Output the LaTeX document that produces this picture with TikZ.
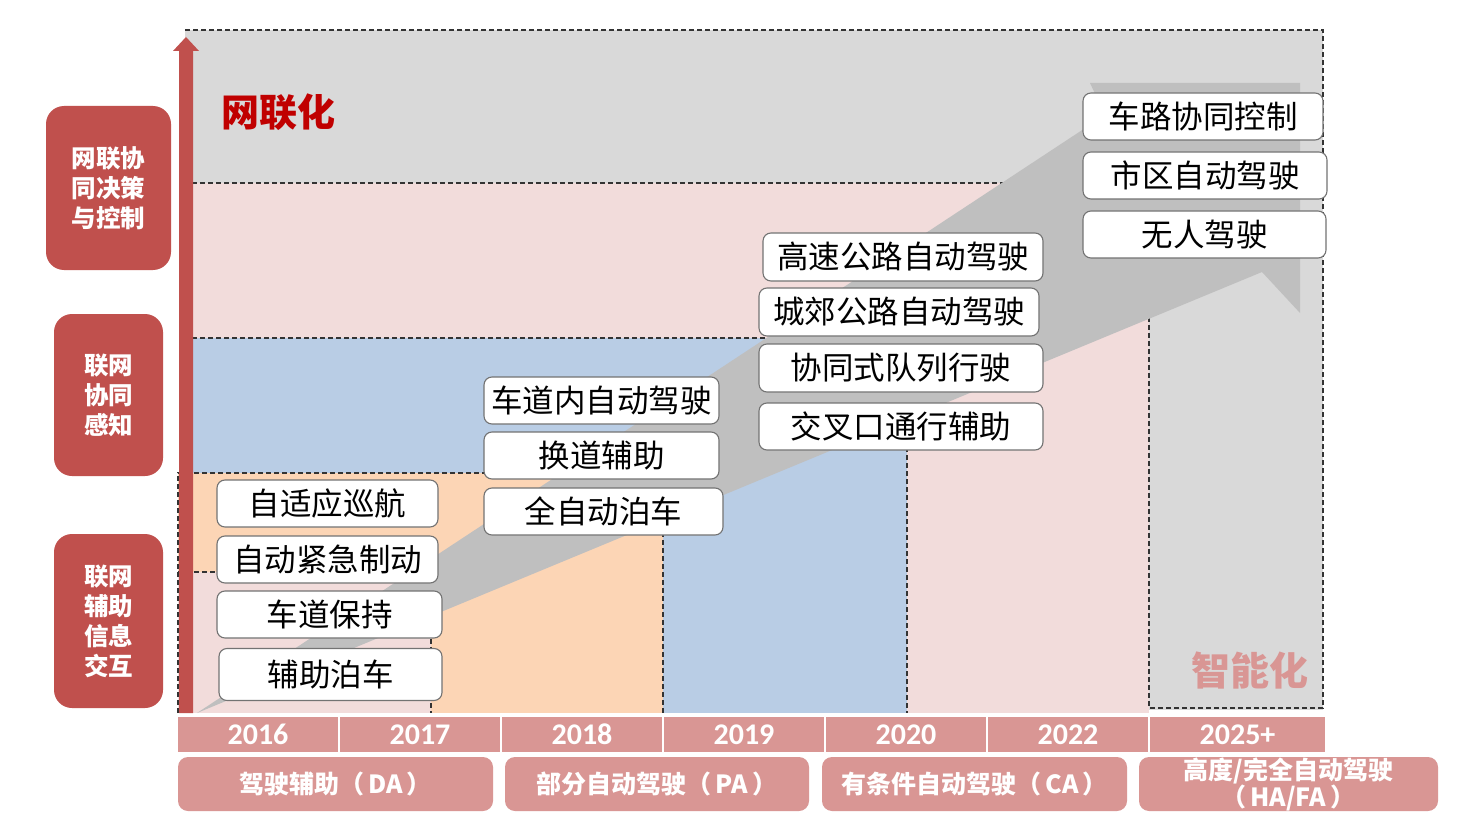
\documentclass[tikz,border=0pt]{standalone}
\usepackage{fontspec}
\newfontfamily\cjk{Noto Sans CJK SC}
\newfontfamily\carl{Carlito}
\definecolor{bggray}{HTML}{D9D9D9}
\definecolor{pinkbg}{HTML}{F2DCDB}
\definecolor{bluebg}{HTML}{B9CDE5}
\definecolor{peach}{HTML}{FCD5B5}
\definecolor{band}{HTML}{BFBFBF}
\definecolor{redA}{HTML}{C0504D}
\definecolor{tl}{HTML}{D99694}
\definecolor{darkred}{HTML}{C00000}
\begin{document}
\begin{tikzpicture}[x=1pt,y=-1pt,
  dline/.style={draw=black!80,line width=1.2pt,dash pattern=on 5pt off 3pt},
  wbox/.style={draw=black!55,line width=1.1pt,fill=white,rounded corners=8pt,
    minimum height=47pt,inner sep=0pt,font=\cjk\fontsize{31.5}{36}\selectfont},
  rbox/.style={fill=redA,rounded corners=18pt,text=white,align=center,inner sep=0pt,
    font=\cjk\bfseries\fontsize{24.5}{30}\selectfont},
  ycell/.style={fill=tl,minimum height=35pt,inner sep=0pt,text=white,
    font=\carl\bfseries\fontsize{30}{34}\selectfont},
  sbox/.style={fill=tl,rounded corners=10pt,minimum height=54pt,inner sep=0pt,text=white,
    align=center,font=\cjk\bfseries\fontsize{25}{27}\selectfont}]
\useasboundingbox[fill=white] (0,0) rectangle (1470,837);
% background regions
\fill[bggray] (185,30) rectangle (1323,710);
\fill[pinkbg] (192,183) rectangle (1149,713);
\fill[bluebg] (192,338) rectangle (907,713);
\fill[peach] (178,473) rectangle (663,713);
\fill[pinkbg] (178,572) rectangle (431,713);
% dashed borders
\draw[dline] (185,30) -- (1323,30) -- (1323,708) -- (1149,708) -- (1149,183);
\draw[dline] (192,183) -- (1149,183);
\draw[dline] (192,338) -- (907,338) -- (907,713);
\draw[dline] (178,713) -- (178,473) -- (663,473) -- (663,713);
\draw[dline] (178,572) -- (431,572) -- (431,713);
% trend band arrow
\fill[band] (197,713) -- (1262,272) -- (1300,313) -- (1300,83) -- (1090,83) -- (1105,115) -- cycle;
% red vertical arrow
\fill[redA] (179,713) -- (179,51) -- (173,51) -- (186,37) -- (199,51) -- (193,51) -- (193,713) -- cycle;
% titles
\node[text=darkred,font=\cjk\bfseries\fontsize{38}{42}\selectfont] (tnet) at (278,112) {网联化};
\node[text=tl,font=\cjk\bfseries\fontsize{39}{42}\selectfont] (tint) at (1250,671) {智能化};
% white boxes
\node[wbox,minimum width=221pt] (a1) at (327.5,503.5) {自适应巡航};
\node[wbox,minimum width=221pt] (a2) at (327.5,559.5) {自动紧急制动};
\node[wbox,minimum width=225pt] (a3) at (329.5,614.5) {车道保持};
\node[wbox,minimum width=223pt,minimum height=52pt] (a4) at (330.5,674.5) {辅助泊车};
\node[wbox,minimum width=235pt] (b1) at (601.5,400.5) {车道内自动驾驶};
\node[wbox,minimum width=235pt] (b2) at (601.5,455.5) {换道辅助};
\node[wbox,minimum width=239pt] (b3) at (603.5,511.5) {全自动泊车};
\node[wbox,minimum width=280pt,minimum height=48pt] (c1) at (903,257) {高速公路自动驾驶};
\node[wbox,minimum width=280pt,minimum height=48pt] (c2) at (899,312) {城郊公路自动驾驶};
\node[wbox,minimum width=284pt,minimum height=48pt] (c3) at (901,368) {协同式队列行驶};
\node[wbox,minimum width=284pt] (c4) at (901,426.5) {交叉口通行辅助};
\node[wbox,minimum width=240pt] (d1) at (1203,116.5) {车路协同控制};
\node[wbox,minimum width=244pt] (d2) at (1205,175.5) {市区自动驾驶};
\node[wbox,minimum width=243pt] (d3) at (1204.5,234.5) {无人驾驶};
% left red boxes
\node[rbox,minimum width=125pt,minimum height=164pt] (l1) at (108.5,188) {网联协\\同决策\\与控制};
\node[rbox,minimum width=109pt,minimum height=162pt] (l2) at (108.5,395) {联网\\协同\\感知};
\node[rbox,minimum width=109pt,minimum height=174pt] (l3) at (108.5,621) {联网\\辅助\\信息\\交互};
% year cells
\node[ycell,minimum width=160pt] (y1) at (258,734.5) {2016};
\node[ycell,minimum width=160pt] (y2) at (420,734.5) {2017};
\node[ycell,minimum width=160pt] (y3) at (582,734.5) {2018};
\node[ycell,minimum width=160pt] (y4) at (744,734.5) {2019};
\node[ycell,minimum width=160pt] (y5) at (906,734.5) {2020};
\node[ycell,minimum width=160pt] (y6) at (1068,734.5) {2022};
\node[ycell,minimum width=175pt] (y7) at (1237.5,734.5) {2025+};
% stage boxes
\node[sbox,minimum width=315pt] (s1) at (335.5,784) {驾驶辅助（\,DA\,）};
\node[sbox,minimum width=304pt] (s2) at (657,784) {部分自动驾驶（\,PA\,）};
\node[sbox,minimum width=305pt] (s3) at (974.5,784) {有条件自动驾驶（\,CA\,）};
\node[sbox,minimum width=299pt] (s4) at (1288.5,784) {高度/完全自动驾驶\\（\,HA/FA\,）};
\end{tikzpicture}
\end{document}
